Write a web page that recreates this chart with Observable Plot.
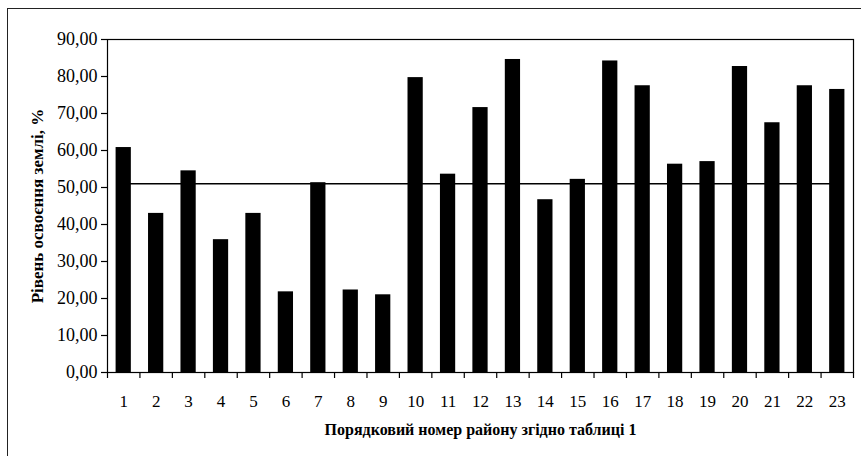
<!DOCTYPE html>
<html>
<head>
<meta charset="utf-8">
<script src="https://cdn.jsdelivr.net/npm/d3@7"></script>
<script src="https://cdn.jsdelivr.net/npm/@observablehq/plot@0.6"></script>
<style>
  html, body { margin: 0; padding: 0; background: #fff; width: 861px; height: 456px; overflow: hidden; }
  #outer { position: absolute; left: 7px; top: 8px; width: 900px; height: 500px;
           border-left: 1.5px solid #222; border-top: 1.5px solid #222; }
  #chart { position: absolute; left: 0; top: 0; }
  #chart svg, #chart svg text, #chart svg g { font-family: "Liberation Serif", "Times New Roman", serif !important; }
</style>
</head>
<body>
<div id="outer"></div>
<div id="chart"></div>
<script>
const districts = d3.range(1, 24);
const levels = [60.8, 43.0, 54.5, 35.9, 43.0, 21.8, 51.3, 22.3, 21.0, 79.7, 53.6, 71.6,
                84.6, 46.7, 52.2, 84.2, 77.5, 56.3, 57.0, 82.7, 67.5, 77.5, 76.5];
const referenceLevel = 51.0;
const yTicks = [0, 10, 20, 30, 40, 50, 60, 70, 80, 90];
const xLabel = "Порядковий номер району згідно таблиці 1";
const yLabel = "Рівень освоєння землі, %";

const barHalf = 0.235;
const data = districts.map((n, i) => ({n, v: levels[i]}));
const boundaries = districts.map(n => n - 0.5).concat([districts[districts.length - 1] + 0.5]);
const fmt = d => d.toFixed(2).replace(".", ",");

const chart = Plot.plot({
  width: 861,
  height: 456,
  marginLeft: 107,
  marginRight: 8,
  marginTop: 39,
  marginBottom: 84,
  style: {fontFamily: "'Liberation Serif', serif", fontSize: "16px", color: "#000", background: "transparent"},
  x: {type: "linear", domain: [0.5, 23.5]},
  y: {domain: [0, 90]},
  marks: [
    Plot.lineY(districts, {x: d => d, y: () => referenceLevel, stroke: "#000", strokeWidth: 1.5}),
    Plot.rectY(data, {x1: d => d.n - barHalf, x2: d => d.n + barHalf, y1: 0, y2: "v", fill: "#000"}),
    Plot.frame({stroke: "#000", strokeWidth: 1.2}),
    Plot.axisY({ticks: yTicks, tickFormat: fmt, tickSize: 6, tickPadding: 4, label: null, stroke: "#000", strokeWidth: 1.2, fontSize: 18}),
    Plot.axisX({ticks: boundaries, tickFormat: () => "", tickSize: 6, label: null, stroke: "#000", strokeWidth: 1.2}),
    Plot.axisX({ticks: districts, tickFormat: d => String(d), tickSize: 0, tickPadding: 22, label: null, fontSize: 17}),
    Plot.text([xLabel], {text: d => d, frameAnchor: "bottom", dy: 62, fontWeight: "bold", fontSize: 16, fill: "#000"}),
    Plot.text([yLabel], {text: d => d, frameAnchor: "left", textAnchor: "middle", dx: -70, rotate: -90, fontWeight: "bold", fontSize: 17, fill: "#000"})
  ]
});
document.getElementById("chart").appendChild(chart);
</script>
</body>
</html>
